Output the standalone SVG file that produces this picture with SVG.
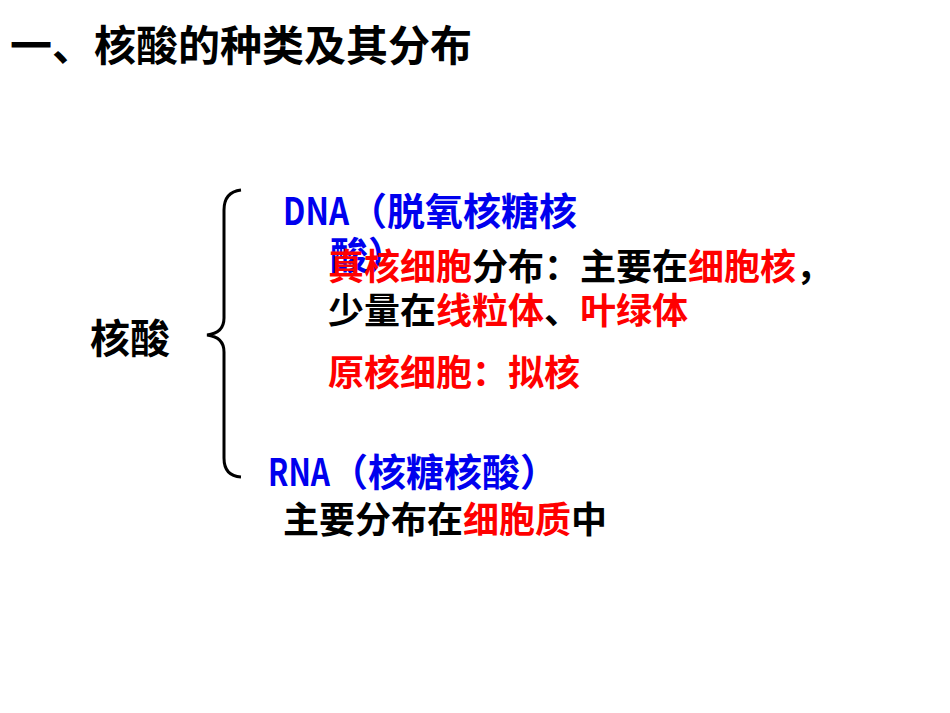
<svg xmlns="http://www.w3.org/2000/svg" width="950" height="713" viewBox="0 0 950 713">
<style>
text{font-family:"Noto Sans CJK SC","Liberation Sans",sans-serif;font-weight:bold;font-size:36px;fill:#000}
.b{fill:#0000ee}.r{fill:#ff0000}
</style>
<rect width="950" height="713" fill="#fff"/>
<text x="10" y="61" style="font-size:42px">一、核酸的种类及其分布</text>
<g id="connectors"><path d="M241,190 Q224,192 224,210 L224,318 Q224,333 207,335 Q224,337 224,352 L224,458 Q224,476 241,477" fill="none" stroke="#000" stroke-width="3"/></g>
<g id="root"><text x="90" y="353" style="font-size:40px">核酸</text></g>
<g id="dna"><text class="b" x="283" y="225" style="font-size:38px"><tspan textLength="66" lengthAdjust="spacingAndGlyphs">DNA</tspan>（脱氧核糖核</text>
<text class="b" x="330" y="269" style="font-size:38px">酸）</text>
<text x="328" y="280"><tspan class="r">真核细胞</tspan>分布：主要在<tspan class="r">细胞核</tspan>，</text>
<text x="328" y="324">少量在<tspan class="r">线粒体</tspan>、<tspan class="r">叶绿体</tspan></text>
<text class="r" x="328" y="386">原核细胞：拟核</text></g>
<g id="rna"><text class="b" x="268" y="486" style="font-size:38px"><tspan textLength="62" lengthAdjust="spacingAndGlyphs">RNA</tspan>（核糖核酸）</text>
<text x="283" y="533">主要分布在<tspan class="r">细胞质</tspan>中</text></g>
</svg>
